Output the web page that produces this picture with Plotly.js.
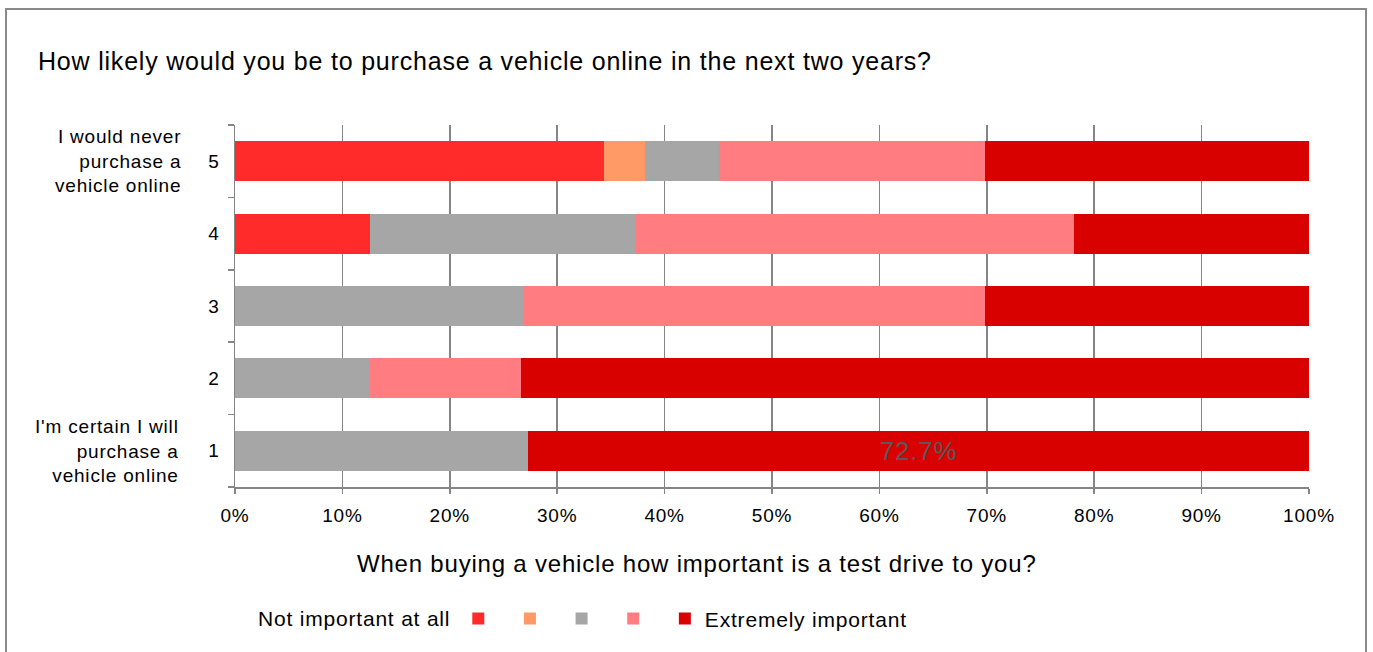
<!DOCTYPE html>
<html>
<head>
<meta charset="utf-8">
<script src="https://cdn.plot.ly/plotly-3.0.1.min.js"></script>
<style>
  html, body { margin: 0; padding: 0; background: #fff; }
  #chart { width: 1373px; height: 652px; }
  svg text { letter-spacing: 0.8px; }
</style>
</head>
<body>
<div id="chart"></div>
<script>
// Categories (likelihood of buying online), bottom to top
const categories = ['1', '2', '3', '4', '5'];

// Importance of a test drive, percent of respondents per category
const level1 = [0, 0, 0, 12.6, 34.4];        // Not important at all
const level2 = [0, 0, 0, 0, 3.8];
const level3 = [27.3, 12.6, 26.8, 24.6, 6.9];
const level4 = [0, 14.0, 43.0, 40.9, 24.7];
const level5 = [72.7, 73.4, 30.2, 21.9, 30.2]; // Extremely important

const levelNames = ['Not important at all', '', '', '', 'Extremely important'];
const levelColors = ['#FF2A2A', '#FF9966', '#A6A6A6', '#FF7C80', '#D90000'];
const labelledBars = [true, false, false, false, false]; // only the first category of the last level is labelled

const topLabel = 'I would never<br>purchase a<br>vehicle online';
const bottomLabel = "I'm certain I will<br>purchase a<br>vehicle online";
const titleText = 'How likely would you be to purchase a vehicle online in the next two years?';
const xTitleText = 'When buying a vehicle how important is a test drive to you?';

const FONT = 'Liberation Sans, Arial, Helvetica, sans-serif';
const series = [level1, level2, level3, level4, level5];

const traces = series.map((vals, i) => {
  const t = {
    type: 'bar',
    orientation: 'h',
    y: categories,
    x: vals,
    name: i === 0 ? ' ' : (levelNames[i] || ' '),
    marker: { color: levelColors[i], line: { width: 0 } },
    width: 0.55,
    hoverinfo: 'skip'
  };
  if (i === series.length - 1) {
    t.text = vals.map((v, j) => labelledBars[j] ? v.toFixed(1) + '%' : '');
    t.textposition = 'inside';
    t.insidetextanchor = 'middle';
    t.textfont = { family: FONT, size: 26, color: '#595959' };
    t.constraintext = 'none';
  } else {
    t.text = vals.map(() => '');
    t.textposition = 'none';
  }
  return t;
});

const layout = {
  width: 1373,
  height: 652,
  margin: { l: 235, r: 64, t: 125, b: 162 },
  paper_bgcolor: '#ffffff',
  plot_bgcolor: '#ffffff',
  font: { family: FONT, color: '#000000', size: 19 },
  barmode: 'stack',
  bargap: 0.45,
  title: {
    text: titleText,
    font: { family: FONT, size: 25, color: '#000000' },
    x: 38 / 1373, xref: 'container', xanchor: 'left',
    y: 1 - 61 / 652, yref: 'container', yanchor: 'middle'
  },
  xaxis: {
    range: [0, 100],
    dtick: 10,
    tick0: 0,
    ticksuffix: '%',
    showgrid: true,
    gridcolor: '#858585',
    gridwidth: 1.5,
    zeroline: false,
    showline: true,
    linecolor: '#858585',
    linewidth: 1.5,
    ticks: 'outside',
    ticklen: 5,
    tickwidth: 1.5,
    tickcolor: '#858585',
    ticklabelstandoff: 6,
    tickfont: { family: FONT, size: 19, color: '#000000' },
    fixedrange: true
  },
  yaxis: {
    type: 'category',
    categoryorder: 'array',
    categoryarray: categories,
    range: [-0.5, 4.5],
    showgrid: false,
    zeroline: false,
    showline: true,
    linecolor: '#858585',
    linewidth: 1.5,
    ticks: 'outside',
    tickson: 'boundaries',
    ticklen: 6,
    tickwidth: 1.5,
    tickcolor: '#858585',
    ticklabelstandoff: 10,
    tickfont: { family: FONT, size: 19, color: '#000000' },
    fixedrange: true
  },
  showlegend: true,
  legend: {
    orientation: 'h',
    traceorder: 'normal',
    x: 0.325, xanchor: 'center',
    y: (490 - 623) / 365, yanchor: 'middle',
    font: { family: FONT, size: 21, color: '#000000' },
    title: { text: levelNames[0], side: 'left', font: { family: FONT, size: 21, color: '#000000' } },
    bgcolor: 'rgba(0,0,0,0)'
  },
  annotations: [
    {
      text: topLabel, xref: 'paper', x: (183 - 235) / 1074, xanchor: 'right',
      yref: 'y', y: categories.indexOf('5'), yanchor: 'middle', align: 'right', showarrow: false,
      font: { family: FONT, size: 19, color: '#000000' }
    },
    {
      text: bottomLabel, xref: 'paper', x: (181 - 235) / 1074, xanchor: 'right',
      yref: 'y', y: categories.indexOf('1'), yanchor: 'middle', align: 'right', showarrow: false,
      font: { family: FONT, size: 19, color: '#000000' }
    },
    {
      text: xTitleText, xref: 'paper', x: (697 - 235) / 1074, xanchor: 'center',
      yref: 'paper', y: (490 - 567) / 365, yanchor: 'middle', showarrow: false,
      font: { family: FONT, size: 24, color: '#000000' }
    }
  ],
  shapes: [
    {
      type: 'rect', xref: 'paper', yref: 'paper',
      x0: (6 - 235) / 1074, x1: (1366 - 235) / 1074,
      y0: (490 - 700) / 365, y1: (490 - 8) / 365,
      line: { color: '#8A8A8A', width: 2 }, fillcolor: 'rgba(0,0,0,0)', layer: 'below'
    }
  ]
};

Plotly.newPlot('chart', traces, layout, { displayModeBar: false, staticPlot: true });
</script>
</body>
</html>
